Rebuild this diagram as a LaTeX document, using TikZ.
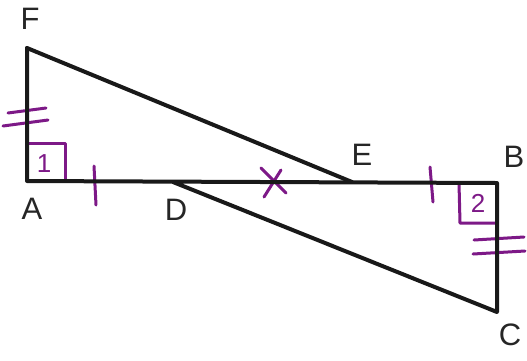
\documentclass[tikz,border=0pt]{standalone}
\usepackage{fontspec}
\setmainfont{Liberation Sans}
\begin{document}
\begin{tikzpicture}[x=1pt,y=-1pt,
  seg/.style={line width=4pt,line cap=round,line join=round,black!90},
  mk/.style={line width=3pt,line cap=round,line join=round,draw=markc},
  lbl/.style={font=\fontsize{31}{36}\selectfont,text=black!85,inner sep=0pt},
  num/.style={font=\fontsize{26}{30}\selectfont,text=markc,inner sep=0pt}]
\definecolor{markc}{RGB}{125,25,135}
\useasboundingbox (0,0) rectangle (527,360);
\fill[white] (0,0) rectangle (527,360);
\coordinate (F) at (27,48);
\coordinate (A) at (27,181);
\coordinate (D) at (173,182);
\coordinate (E) at (352,182);
\coordinate (B) at (497,183);
\coordinate (C) at (497,312);
% marks (under lines)
\draw[mk] (27,143) -- (65,143) -- (65,181);
\node[num] (n1) at (44,164) {1};
\draw[mk] (459,183) -- (460,223) -- (497,223);
\node[num] (n2) at (478,203) {2};
\draw[mk] (8,113) -- (46,108);
\draw[mk] (3,126) -- (48,120);
\draw[mk] (94,166) -- (96,205);
\draw[mk] (430,167) -- (433,202);
\draw[mk] (261,168) -- (286,193);
\draw[mk] (281,170) -- (264,197);
\draw[mk] (474,240) -- (524,237);
\draw[mk] (473,254) -- (525,251);
% lines
\draw[seg] (F) -- (A) -- (B) -- (C) -- (D);
\draw[seg] (F) -- (E);
% labels
\node[lbl] (lF) at (30,19) {F};
\node[lbl] (lA) at (32,209) {A};
\node[lbl] (lD) at (176,210) {D};
\node[lbl] (lE) at (362,155) {E};
\node[lbl] (lB) at (514,157) {B};
\node[lbl] (lC) at (510,335) {C};
\end{tikzpicture}
\end{document}
